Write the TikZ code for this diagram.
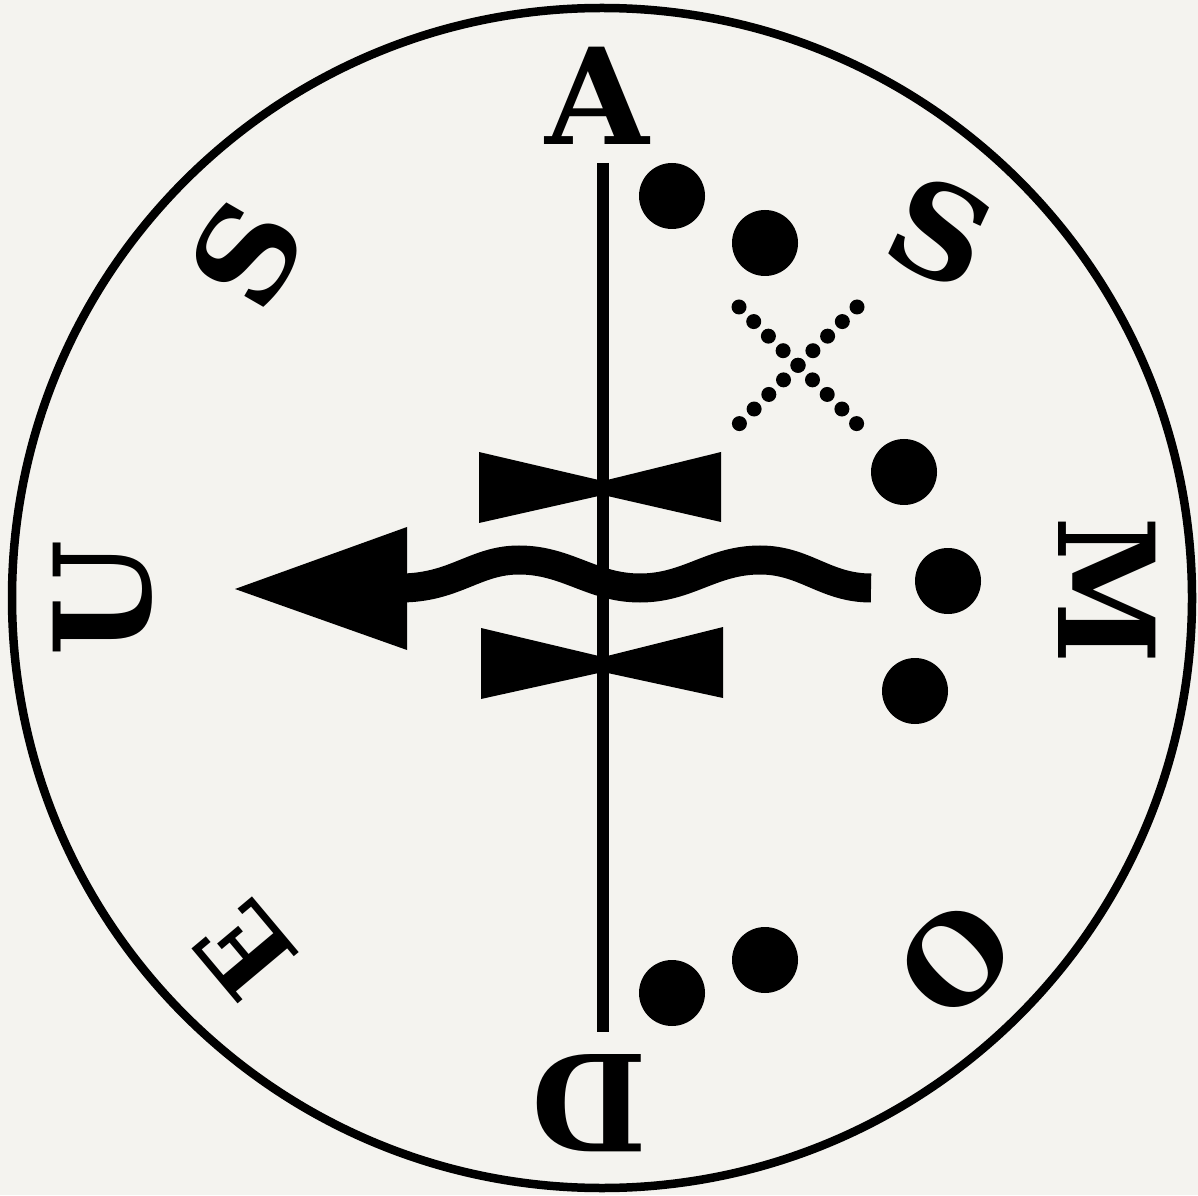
\documentclass[tikz,border=0pt]{standalone}
\usepackage{fontspec}
\setmainfont{DejaVu Serif}
\usetikzlibrary{arrows.meta,positioning}
\definecolor{paper}{HTML}{F4F3EF}
\begin{document}
\begin{tikzpicture}[x=0.1mm,y=-0.1mm,
  letter/.style={font=\bfseries\fontsize{38}{38}\selectfont, inner sep=0pt},
  spot/.style={circle, fill=black, minimum size=6.6mm, inner sep=0pt},
  crossline/.style={line width=1.5mm, line cap=round, dash pattern=on 0pt off 2.07mm},
  bow/.style={fill=black, draw=none}]
\fill[paper] (0,0) rectangle (1198,1195);
\useasboundingbox (0,0) rectangle (1198,1195);
\draw[line width=0.85mm] (602,598) circle [radius=5.9cm];
% letters round the rim
\node[letter] (a) at (597,96) {A};
\node[letter, rotate=-25, yscale=0.95] (s1) at (941,232) {S};
\node[letter, rotate=-90] (m) at (1107,590) {M};
\node[letter, rotate=-135, scale=0.9] (o) at (955,959) {O};
\node[letter, rotate=180] (d) at (590,1103) {D};
\node[letter, rotate=130, scale=0.82] (e) at (245,950) {E};
\node[letter, rotate=90] (u) at (103,598) {U};
\node[letter, rotate=60, yscale=0.95] (s2) at (247,254) {S};
% spots
\node[spot] (p1) at (672,196) {};
\node[spot] (p2) at (765,243) {};
\node[spot] (p3) at (904,472) {};
\node[spot] (p4) at (948,581) {};
\node[spot] (p5) at (915,691) {};
\node[spot] (p6) at (765,960) {};
\node[spot] (p7) at (672,993) {};
% axis
\coordinate (top) at (603,163);
\coordinate (bot) at (603,1032);
\draw[line width=1.2mm] (top) -- (bot);
% dotted cross
\coordinate (c1) at (739,307);
\coordinate (c2) at (857,424);
\coordinate (c3) at (857,307);
\coordinate (c4) at (739,424);
\draw[crossline] (c1) -- (c2);
\draw[crossline] (c3) -- (c4);
% bow ties
\fill[bow] (479,452) -- (603,481) -- (721,452) -- (721,522) -- (603,495) -- (479,523) -- cycle;
\fill[bow] (481,628) -- (603,657) -- (723,627) -- (723,698) -- (603,672) -- (481,699) -- cycle;
% wave and head
\coordinate (wstart) at (871,588);
\coordinate (wend) at (400,588);
\draw[line width=2.9mm] (wstart) .. controls (825,588) and (805,560) .. (760,560)
  .. controls (712,560) and (688,588) .. (640,588)
  .. controls (592,588) and (567,560) .. (519,560)
  .. controls (475,560) and (455,588) .. (wend);
\fill (235,589) -- (407,527) -- (407,650) -- cycle;
\end{tikzpicture}
\end{document}
